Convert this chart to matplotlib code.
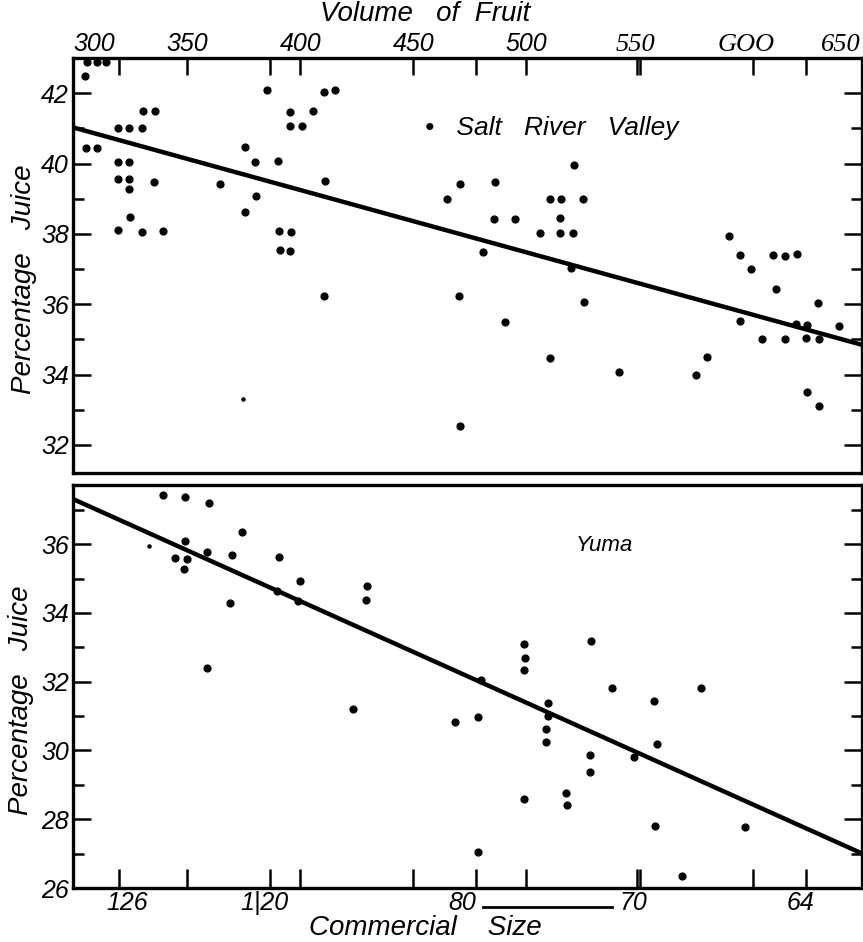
import numpy as np
import matplotlib
matplotlib.use('Agg')
import matplotlib.pyplot as plt

# Salt River Valley: volume of fruit (cc) vs percentage juice
srv_vol = [305.6, 310.0, 314.4, 304.9, 385.5, 410.7, 415.6, 330.6, 335.8, 395.4,
           405.7, 319.3, 324.4, 329.9, 395.4, 400.7, 305.2, 310.3, 375.8, 319.7,
           324.4, 380.2, 390.4, 319.4, 324.3, 324.3, 335.2, 364.4, 410.9, 380.6,
           375.7, 324.7, 319.7, 329.9, 339.3, 390.8, 396.0, 391.0, 395.4, 410.5,
           521.1, 470.8, 486.2, 465.0, 510.2, 515.4, 525.1, 485.5, 494.8, 514.7,
           505.8, 514.7, 520.6, 480.8, 519.9, 470.3, 525.4, 490.7, 510.2, 470.8,
           540.7, 589.3, 594.5, 599.2, 609.0, 614.4, 619.4, 610.5, 628.9, 594.6,
           604.2, 614.2, 619.0, 623.9, 623.5, 629.5, 638.0, 579.9, 574.8, 624.0,
           629.2]
srv_pct = [42.9, 42.9, 42.9, 42.48, 42.1, 42.03, 42.08, 41.49, 41.5, 41.47,
           41.5, 41.02, 41.02, 41.01, 41.08, 41.08, 40.45, 40.43, 40.46, 40.04,
           40.04, 40.05, 40.07, 39.55, 39.55, 39.28, 39.47, 39.42, 39.5, 39.09,
           38.62, 38.48, 38.1, 38.06, 38.09, 38.08, 38.06, 37.53, 37.5, 36.23,
           39.96, 39.42, 39.48, 39.0, 39.0, 38.99, 39.0, 38.41, 38.41, 38.44,
           38.01, 38.02, 38.03, 37.48, 37.02, 36.24, 36.05, 35.5, 34.46, 32.54,
           34.06, 37.95, 37.4, 37.01, 37.4, 37.37, 37.44, 36.44, 36.02, 35.51,
           35.02, 35.01, 35.43, 35.41, 35.03, 35.0, 35.38, 34.5, 34.0, 33.49,
           33.1]
srv_faint_vol = [374.6]
srv_faint_pct = [33.3]
srv_fit = (41.02, -0.01773)   # value at 300 cc, slope per cc

# Yuma
yuma_vol = [339.2, 349.3, 359.5, 374.5, 349.3, 358.7, 369.7, 344.9, 350.2, 348.5,
            390.7, 399.8, 389.8, 399.0, 429.7, 429.2, 368.8, 359.0, 423.4, 468.6,
            478.6,
            479.9, 478.6, 498.8, 499.2, 499.1, 498.8, 509.6, 509.6, 508.8, 508.8,
            517.4, 518.1, 528.3, 528.0, 528.5, 537.6, 547.5, 556.3, 557.9, 556.6,
            568.7, 577.2, 596.5]
yuma_pct = [37.44, 37.38, 37.2, 36.35, 36.09, 35.78, 35.68, 35.6, 35.56, 35.28,
            35.63, 34.93, 34.65, 34.35, 34.78, 34.37, 34.29, 32.39, 31.21, 30.82,
            30.97,
            32.05, 27.05, 33.11, 32.68, 32.34, 28.6, 31.39, 31.0, 30.61, 30.26,
            28.77, 28.4, 29.86, 29.36, 33.19, 31.82, 29.81, 31.44, 30.19, 27.81,
            26.35, 31.82, 27.78]
yuma_faint_vol = [333.1]
yuma_faint_pct = [35.96]
yuma_fit = (37.3, -0.02956)

# axes scales
vol_ticks = [350, 400, 450, 500, 550, 600]
vol_labels = ['300', '350', '400', '450', '500', '550', 'GOO', '650']
vol_label_at = [309, 350, 400, 450, 500, 548, 597, 639]
size_ticks = [320, 386.7, 477.5, 549, 623.5]
size_labels = ['126', '1|20', '80', '70', '64']
size_label_at = [323.4, 384, 471.4, 547, 621]

XLIM = (299.6, 648.3)
SANS = 'Liberation Sans'
SERIF = 'Liberation Serif'

fig = plt.figure(figsize=(8.63, 9.42), dpi=100)
ax1 = fig.add_axes([73/863, 1-473/942, 789/863, 415/942])
ax2 = fig.add_axes([73/863, 1-888/942, 789/863, 403/942])

def frame(ax):
    for s in ax.spines.values():
        s.set_linewidth(2.4)
    ax.set_xlim(*XLIM)
    ax.tick_params(axis='y', which='both', direction='in', left=True, right=True,
                   width=1.8, labelsize=18, pad=3)
    ax.tick_params(axis='y', which='major', length=13)
    ax.tick_params(axis='y', which='minor', length=8)
    for t in ax.get_yticklabels():
        t.set_fontfamily(SANS)
        t.set_fontstyle('italic')

xs = np.linspace(*XLIM, 2)

# top panel
ax1.scatter(srv_vol, srv_pct, s=24, color='black', clip_on=False, zorder=3)
ax1.scatter(srv_faint_vol, srv_faint_pct, s=5, color='black', zorder=3)
ax1.plot(xs, srv_fit[0] + srv_fit[1] * (xs - 300), color='black', lw=3.2)
ax1.set_ylim(31.2, 43.0)
ax1.set_yticks([32, 34, 36, 38, 40, 42])
ax1.set_yticks(np.arange(33, 43, 2), minor=True)
ax1.set_xticks(sorted(vol_ticks + size_ticks))
ax1.tick_params(axis='x', direction='in', top=True, bottom=False, labelbottom=False,
                length=12, width=1.8)
frame(ax1)
for v, lab in zip(vol_label_at, vol_labels):
    serif = lab in ('550', 'GOO', '650')
    ax1.text(v, 1.006, lab, transform=ax1.get_xaxis_transform(), ha='center',
             va='bottom', fontsize=19 if serif else 18, style='italic',
             family=SERIF if serif else SANS)
ax1.text(455, 41.0, '\u2022   Salt   River   Valley', fontsize=19, style='italic',
         family=SANS, va='center', ha='left')
ax1.text(-0.062, 0.467, 'Percentage   Juice', transform=ax1.transAxes, rotation=90,
         ha='center', va='center', fontsize=20, style='italic', family=SANS)

# bottom panel
ax2.scatter(yuma_vol, yuma_pct, s=24, color='black', zorder=3)
ax2.scatter(yuma_faint_vol, yuma_faint_pct, s=5, color='black', zorder=3)
ax2.plot(xs, yuma_fit[0] + yuma_fit[1] * (xs - 300), color='black', lw=3.2)
ax2.set_ylim(26.0, 37.72)
ax2.set_yticks([26, 28, 30, 32, 34, 36])
ax2.set_yticks(np.arange(27, 38, 2), minor=True)
ax2.set_xticks(size_ticks, [''] * len(size_ticks))
ax2.set_xticks(vol_ticks, minor=True)
ax2.tick_params(axis='x', which='both', direction='in', top=False, bottom=True,
                length=14, width=1.8)
frame(ax2)
for v, lab in zip(size_label_at, size_labels):
    ax2.text(v, -0.008, lab, transform=ax2.get_xaxis_transform(), ha='center',
             va='top', fontsize=18, style='italic', family=SANS)
ax2.text(534.5, 35.97, 'Yuma', fontsize=16, style='italic', family=SANS,
         ha='center', va='center')
ax2.text(-0.066, 0.466, 'Percentage   Juice', transform=ax2.transAxes, rotation=90,
         ha='center', va='center', fontsize=20, style='italic', family=SANS)
# rule joining the 80 and 70 labels
ax2.plot([481, 538], [-0.048, -0.048], transform=ax2.get_xaxis_transform(),
         color='black', lw=2, clip_on=False)

fig.text(0.4925, 0.985, 'Volume   of  Fruit', ha='center', va='center', fontsize=20,
         style='italic', family=SANS)
fig.text(0.4925, 0.0145, 'Commercial    Size', ha='center', va='center', fontsize=20,
         style='italic', family=SANS)

fig.savefig('out.png', dpi=100)
